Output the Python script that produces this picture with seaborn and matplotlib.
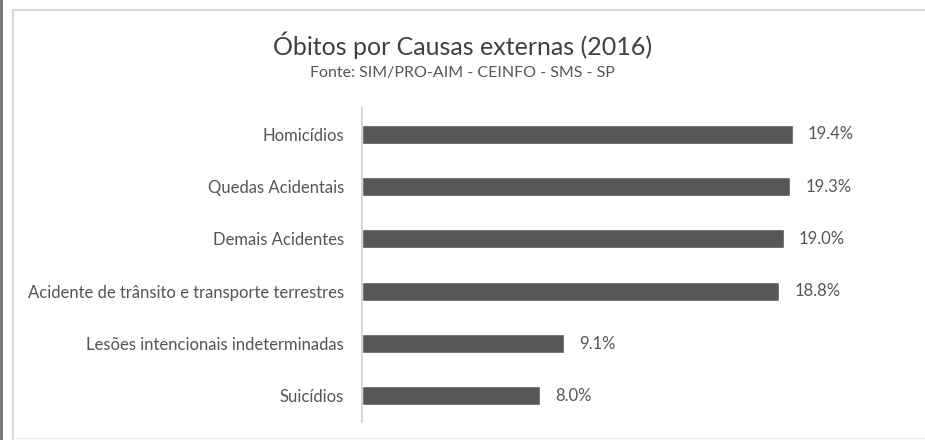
import matplotlib
matplotlib.use("Agg")
import matplotlib.pyplot as plt
from matplotlib.lines import Line2D
import seaborn as sns
import pandas as pd

categories = [
    "Homicídios",
    "Quedas Acidentais",
    "Demais Acidentes",
    "Acidente de trânsito e transporte terrestres",
    "Lesões intencionais indeterminadas",
    "Suicídios",
]
values = [19.4, 19.3, 19.0, 18.8, 9.1, 8.0]
value_labels = ["19.4%", "19.3%", "19.0%", "18.8%", "9.1%", "8.0%"]

title = "Óbitos por Causas externas (2016)"
subtitle = "Fonte: SIM/PRO-AIM - CEINFO - SMS - SP"

sns.set_theme(style="white")
plt.rcParams["font.family"] = ["Lato", "DejaVu Sans"]

W, H = 925, 440
fig = plt.figure(figsize=(W / 100, H / 100), dpi=100)
fig.patch.set_facecolor("white")

# plot area in pixel coordinates
left, right, top, bottom = 362, 917, 108, 422
ax = fig.add_axes([left / W, 1 - bottom / H, (right - left) / W, (bottom - top) / H])

df = pd.DataFrame({"causa": categories, "pct": values})
sns.barplot(data=df, y="causa", x="pct", orient="h", color="#575757",
            saturation=1, width=0.36, ax=ax)

ax.set_xlim(0, 25)
ax.set_xlabel("")
ax.set_ylabel("")
ax.set_xticks([])
for s in ["top", "right", "bottom"]:
    ax.spines[s].set_visible(False)
ax.spines["left"].set_color("#d0d0d0")
ax.spines["left"].set_linewidth(1.2)
ax.tick_params(axis="y", length=0, pad=13, labelsize=12, labelcolor="#555555")

for cont in ax.containers:
    ax.bar_label(cont, labels=value_labels, padding=11, fontsize=12, color="#555555")

fig.text(0.5, 1 - 45 / H, title, ha="center", va="center", fontsize=18, color="#404040")
fig.text(0.5, 1 - 73 / H, subtitle, ha="center", va="center", fontsize=11.5, color="#555555")

# outer frame lines
fig.add_artist(Line2D([1 / W, 1 / W], [0, 1], transform=fig.transFigure, color="#707070", lw=2))
fig.add_artist(Line2D([13 / W, 1], [1 - 10 / H, 1 - 10 / H], transform=fig.transFigure, color="#d8d8d8", lw=1.5))
fig.add_artist(Line2D([13 / W, 13 / W], [0, 1 - 10 / H], transform=fig.transFigure, color="#d8d8d8", lw=1.5))
fig.add_artist(Line2D([13 / W, 1], [2 / H, 2 / H], transform=fig.transFigure, color="#eeeeee", lw=1))

fig.savefig("out.png", dpi=100, facecolor="white")
